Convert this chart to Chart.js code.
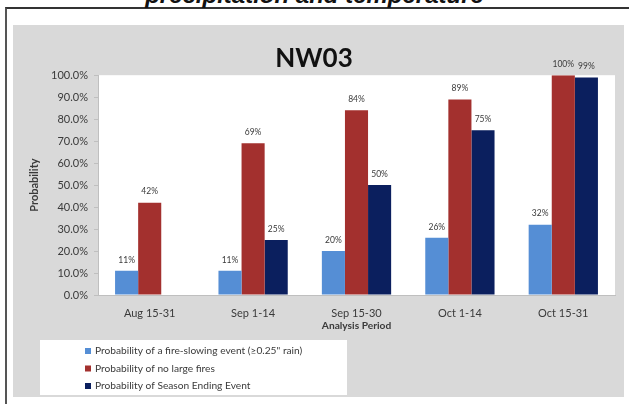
<!DOCTYPE html>
<html><head><meta charset="utf-8">
<script src="https://cdn.jsdelivr.net/npm/chart.js@4"></script>
<style>
html,body{margin:0;padding:0;background:#fff;width:629px;height:404px;overflow:hidden;}
#top{position:absolute;left:0;top:-19px;width:629px;text-align:center;font:italic bold 24px "Liberation Sans",Arial,sans-serif;color:#111;white-space:nowrap;}
#frame{position:absolute;left:5px;top:7px;width:624px;height:397px;border-left:2px solid #555;border-top:2px solid #333;background:#fff;box-sizing:border-box;}
#panel{position:absolute;left:13px;top:25px;width:611px;height:372px;background:#d9d9d9;}
</style></head><body>
<div id="frame"></div>
<div id="top">precipitation and temperature</div>
<div id="panel"><canvas id="c"></canvas></div>
<script>
const chartTitle = 'NW03';
const categories = ['Aug 15-31', 'Sep 1-14', 'Sep 15-30', 'Oct 1-14', 'Oct 15-31'];
const seriesNames = [
  'Probability of a fire-slowing event (\u22650.25" rain)',
  'Probability of no large fires',
  'Probability of Season Ending Event'
];
const fireSlowing = [11, 11, 20, 26, 32];
const noLargeFires = [42, 69, 84, 89, 100];
const seasonEnding = [null, 25, 50, 75, 99];
const seriesColors = ['#558ed5', '#a3302e', '#0b1f5e'];
const yTickValues = [0, 10, 20, 30, 40, 50, 60, 70, 80, 90, 100];

const FONT = 'Lato, "Open Sans", sans-serif';
const TXT = '#3a3a3a';

const plotBg = {
  id: 'plotBg',
  beforeDraw(chart) {
    const {ctx, chartArea: a} = chart;
    ctx.save();
    ctx.fillStyle = '#ffffff';
    ctx.fillRect(a.left, a.top, a.right - a.left, a.bottom - a.top);
    ctx.restore();
  }
};

const dataLabels = {
  id: 'dataLabels',
  afterDatasetsDraw(chart) {
    const ctx = chart.ctx;
    ctx.save();
    ctx.font = '8.5px ' + FONT;
    ctx.fillStyle = TXT;
    ctx.textAlign = 'center';
    ctx.textBaseline = 'middle';
    chart.data.datasets.forEach((ds, i) => {
      const meta = chart.getDatasetMeta(i);
      meta.data.forEach((el, j) => {
        const v = ds.data[j];
        if (v === null || v === undefined) return;
        ctx.fillText(v + '%', el.x, el.y - 11);
      });
    });
    ctx.restore();
  }
};

const boxLegend = {
  id: 'boxLegend',
  afterDraw(chart) {
    const ctx = chart.ctx;
    const bx = 27, by = 315, bw = 307, bh = 55;
    ctx.save();
    ctx.fillStyle = '#ffffff';
    ctx.fillRect(bx, by, bw, bh);
    ctx.font = '10.2px ' + FONT;
    ctx.textBaseline = 'middle';
    ctx.textAlign = 'left';
    chart.data.datasets.forEach((ds, i) => {
      const y = by + 11 + i * 17.5;
      ctx.fillStyle = ds.backgroundColor;
      ctx.fillRect(72, y - 3, 6, 6);
      ctx.fillStyle = TXT;
      ctx.fillText(ds.label, 82, y);
    });
    ctx.restore();
  }
};

new Chart(document.getElementById('c'), {
  type: 'bar',
  data: {
    labels: categories,
    datasets: [
      {label: seriesNames[0], data: fireSlowing, backgroundColor: seriesColors[0]},
      {label: seriesNames[1], data: noLargeFires, backgroundColor: seriesColors[1]},
      {label: seriesNames[2], data: seasonEnding, backgroundColor: seriesColors[2]}
    ]
  },
  options: {
    responsive: true,
    maintainAspectRatio: false,
    animation: false,
    layout: {padding: {left: 0, right: 9, top: 0, bottom: 57}},
    datasets: {bar: {categoryPercentage: 0.67, barPercentage: 1.0}},
    plugins: {
      legend: {display: false},
      tooltip: {enabled: false},
      title: {
        display: true,
        text: chartTitle,
        color: '#111',
        font: {family: FONT, size: 26, weight: 'bold'},
        padding: {top: 18, bottom: 1}
      }
    },
    scales: {
      x: {
        grid: {display: false},
        border: {color: '#bfbfbf'},
        ticks: {color: TXT, font: {family: FONT, size: 11}, padding: 4, maxRotation: 0},
        title: {display: true, text: 'Analysis Period', color: TXT, font: {family: FONT, size: 10.2, weight: 'bold'}, padding: {top: 0, bottom: 8}},
        afterFit(s) { s.height = 45; }
      },
      y: {
        min: 0, max: 100,
        afterBuildTicks(s) { s.ticks = yTickValues.map(v => ({value: v})); },
        grid: {drawOnChartArea: false, drawTicks: true, tickLength: 4, color: '#bfbfbf'},
        border: {color: '#bfbfbf'},
        ticks: {color: TXT, font: {family: FONT, size: 11}, padding: 6, callback: v => v.toFixed(1) + '%'},
        title: {display: true, text: 'Probability', color: TXT, font: {family: FONT, size: 11, weight: 'bold'}, padding: {top: 15, bottom: 0}},
        afterFit(s) { s.width = 85; }
      }
    }
  },
  plugins: [plotBg, dataLabels, boxLegend]
});
</script>
</body></html>
